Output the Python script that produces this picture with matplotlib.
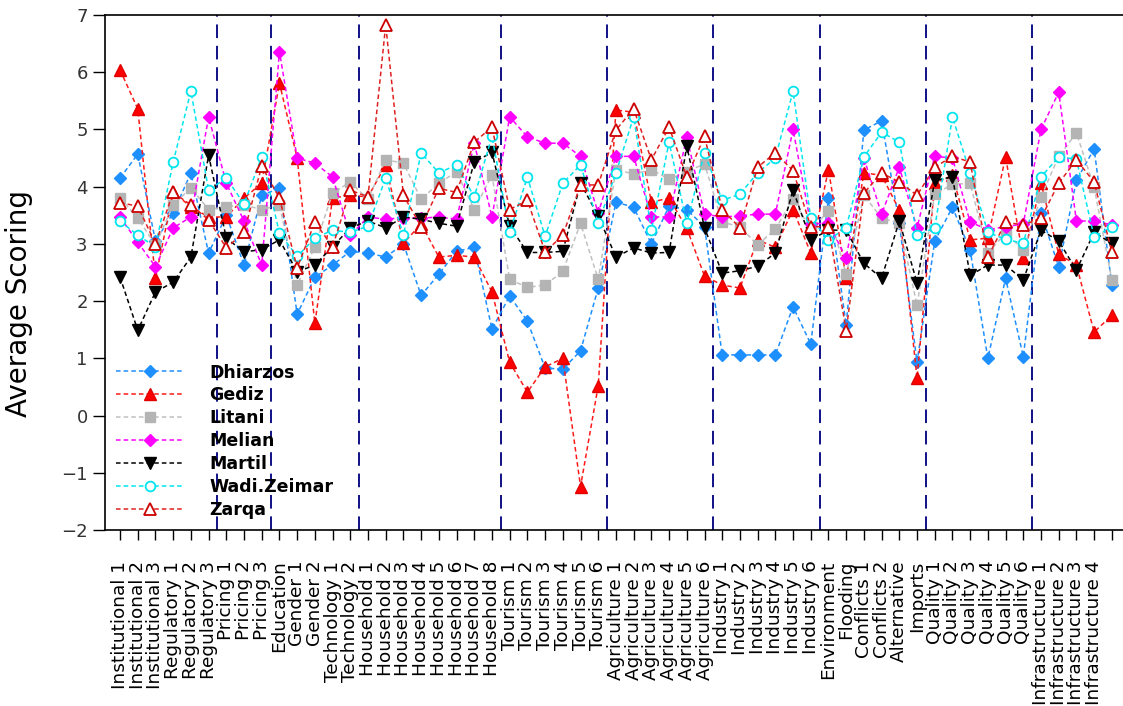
import matplotlib
matplotlib.use("Agg")
import matplotlib.pyplot as plt

labels = ["Institutional 1", "Institutional 2", "Institutional 3",
          "Regulatory 1", "Regulatory 2", "Regulatory 3",
          "Pricing 1", "Pricing 2", "Pricing 3", "Education",
          "Gender 1", "Gender 2", "Technology 1", "Technology 2",
          "Household 1", "Household 2", "Household 3", "Household 4",
          "Household 5", "Household 6", "Household 7", "Household 8",
          "Tourism 1", "Tourism 2", "Tourism 3", "Tourism 4", "Tourism 5", "Tourism 6",
          "Agriculture 1", "Agriculture 2", "Agriculture 3", "Agriculture 4",
          "Agriculture 5", "Agriculture 6",
          "Industry 1", "Industry 2", "Industry 3", "Industry 4", "Industry 5", "Industry 6",
          "Environment", "Flooding", "Conflicts 1", "Conflicts 2", "Alternative", "Imports",
          "Quality 1", "Quality 2", "Quality 3", "Quality 4", "Quality 5", "Quality 6",
          "Infrastructure 1", "Infrastructure 2", "Infrastructure 3", "Infrastructure 4", ""]

dhiarzos = [4.15, 4.57, 3.05, 3.54, 4.24, 2.84, 3.5, 2.63, 3.85, 3.97,
            1.77, 2.42, 2.63, 2.87, 2.84, 2.77, 3.0, 2.1, 2.47, 2.87,
            2.94, 1.51, 2.09, 1.65, 0.83, 0.81, 1.13, 2.23, 3.73, 3.64,
            3.0, 3.66, 3.6, 3.3, 1.06, 1.06, 1.06, 1.06, 1.9, 1.25,
            3.8, 1.58, 4.99, 5.15, 3.36, 0.93, 3.05, 3.64, 2.89, 1.0,
            2.4, 1.03, 3.54, 2.6, 4.11, 4.66, 2.28]
gediz = [6.04, 5.36, 2.4, 3.9, 3.65, 3.47, 3.47, 3.8, 4.06, 5.81,
         4.5, 1.61, 3.8, 3.85, 3.82, 4.38, 3.01, 3.35, 2.77, 2.8,
         2.77, 2.16, 0.93, 0.41, 0.85, 1.0, -1.24, 0.52, 5.34, 5.3,
         3.73, 3.8, 3.27, 2.44, 2.28, 2.23, 3.07, 2.94, 3.6, 2.84,
         4.3, 2.4, 4.24, 4.2, 3.59, 0.65, 4.06, 4.2, 3.07, 3.1,
         4.52, 2.75, 4.06, 2.82, 2.63, 1.46, 1.75]
litani = [3.8, 3.45, 2.98, 3.68, 3.98, 3.6, 3.65, 3.68, 3.6, 3.68,
          2.28, 2.95, 3.89, 4.08, 3.78, 4.47, 4.41, 3.78, 4.06, 4.26,
          3.6, 4.2, 2.38, 2.24, 2.28, 2.52, 3.36, 2.38, 4.3, 4.22,
          4.3, 4.13, 4.26, 4.4, 3.38, 3.3, 2.98, 3.26, 3.78, 3.25,
          3.57, 2.47, 3.85, 3.45, 3.36, 1.93, 3.87, 4.04, 4.06, 2.84,
          3.19, 2.9, 3.82, 4.53, 4.94, 3.99, 2.37]
melian = [3.47, 3.03, 2.6, 3.28, 3.47, 5.22, 4.06, 3.4, 2.63, 6.36,
          4.5, 4.41, 4.17, 3.15, 3.47, 3.43, 3.46, 3.45, 3.47, 3.43,
          4.76, 3.47, 5.22, 4.87, 4.76, 4.76, 4.53, 3.54, 4.53, 4.53,
          3.47, 3.47, 4.87, 3.52, 3.47, 3.49, 3.52, 3.52, 5.0, 3.35,
          3.36, 2.75, 4.5, 3.52, 4.34, 3.28, 4.53, 4.5, 3.38, 3.25,
          3.3, 3.35, 5.0, 5.65, 3.4, 3.4, 3.33]
martil = [2.42, 1.49, 2.16, 2.33, 2.77, 4.55, 3.1, 2.86, 2.9, 3.07,
          2.51, 2.63, 2.95, 3.28, 3.4, 3.28, 3.47, 3.43, 3.36, 3.31,
          4.43, 4.6, 3.31, 2.85, 2.85, 2.87, 4.06, 3.49, 2.77, 2.93,
          2.84, 2.85, 4.71, 3.28, 2.49, 2.53, 2.61, 2.84, 3.94, 3.07,
          3.24, 3.24, 2.66, 2.4, 3.4, 2.32, 4.11, 4.17, 2.45, 2.63,
          2.63, 2.37, 3.24, 3.05, 2.54, 3.2, 3.01]
wadi_zeimar = [3.4, 3.15, 2.95, 4.43, 5.67, 3.94, 4.15, 3.7, 4.52, 3.19,
               2.78, 3.1, 3.24, 3.2, 3.31, 4.15, 3.15, 4.59, 4.24, 4.38,
               3.82, 4.88, 3.2, 4.17, 3.13, 4.06, 4.38, 3.36, 4.24, 5.22,
               3.24, 4.78, 3.36, 4.59, 3.76, 3.87, 4.24, 4.5, 5.67, 3.45,
               3.07, 3.28, 4.52, 4.95, 4.78, 3.15, 3.28, 5.22, 4.24, 3.2,
               3.08, 3.01, 4.17, 4.52, 4.48, 3.12, 3.3]
zarqa = [3.72, 3.66, 3.0, 3.9, 3.68, 3.42, 2.93, 3.2, 4.36, 3.8,
         2.58, 3.38, 2.95, 3.94, 3.82, 6.83, 3.85, 3.3, 3.97, 3.9,
         4.78, 5.04, 3.6, 3.76, 2.86, 3.15, 4.03, 4.03, 4.99, 5.36,
         4.47, 5.04, 4.17, 4.88, 3.6, 3.28, 4.34, 4.59, 4.28, 3.3,
         3.3, 1.48, 3.89, 4.24, 4.08, 3.85, 4.34, 4.53, 4.43, 2.77,
         3.38, 3.33, 3.45, 4.06, 4.47, 4.08, 2.86]

# group separators sit between these categories
separators = [5.5, 8.5, 13.5, 21.5, 27.5, 33.5, 39.5, 45.5, 51.5]

series = [
    ("Dhiarzos", dhiarzos, dict(color="#1e8fff", marker="D", ms=6, mfc="#1e8fff", mec="#1e8fff")),
    ("Gediz", gediz, dict(color="#ff1a1a", marker="^", ms=8, mfc="#ff0000", mec="#e00000")),
    ("Litani", litani, dict(color="#c0c0c0", marker="s", ms=7, mfc="#b4b4b4", mec="#b4b4b4")),
    ("Melian", melian, dict(color="#ff00ff", marker="D", ms=6, mfc="#ff00ff", mec="#ff00ff")),
    ("Martil", martil, dict(color="#000000", marker="v", ms=8, mfc="#000000", mec="#000000")),
    ("Wadi.Zeimar", wadi_zeimar, dict(color="#00e5ee", marker="o", ms=7, mfc="white", mec="#00e5ee", mew=1.3)),
    ("Zarqa", zarqa, dict(color="#e02020", marker="^", ms=8, mfc="white", mec="#cc0000", mew=1.3)),
]

fig = plt.figure(figsize=(11.23, 7.06), dpi=100)
ax = fig.add_axes([105 / 1123, 1 - 530 / 706, 1 - 105 / 1123, (530 - 15) / 706])

x = list(range(len(labels)))
for name, vals, style in series:
    ax.plot(x, vals, linestyle=(0, (3, 2)), lw=1.1, label=name, **style)

for s in separators:
    ax.axvline(s, color="#101088", lw=1.4, linestyle=(0, (7, 4)), zorder=0.5)

ax.set_xlim(-0.85, 56.63)
ax.set_ylim(-2, 7)
ax.set_yticks(range(-2, 8))
ax.set_xticks(x)
ax.set_xticklabels(labels, rotation=90, fontsize=13.3, family="DejaVu Sans")
ax.tick_params(axis="x", length=7, width=1, direction="out", pad=15)
ax.tick_params(axis="y", length=9, width=1, direction="out", labelsize=13, labelcolor="#333333")
ax.spines["right"].set_visible(False)
for sp in ("left", "top", "bottom"):
    ax.spines[sp].set_linewidth(1.2)
ax.set_ylabel("Average Scoring", fontsize=20, family="DejaVu Sans")
ax.yaxis.set_label_coords(-0.071, 0.439)

leg = ax.legend(loc="lower left", frameon=False, borderaxespad=0.25,
                handlelength=3.85, handletextpad=1.5, labelspacing=0.28,
                prop=dict(family="DejaVu Sans", weight="bold", size=12.5))

fig.savefig("out.png", dpi=100)
